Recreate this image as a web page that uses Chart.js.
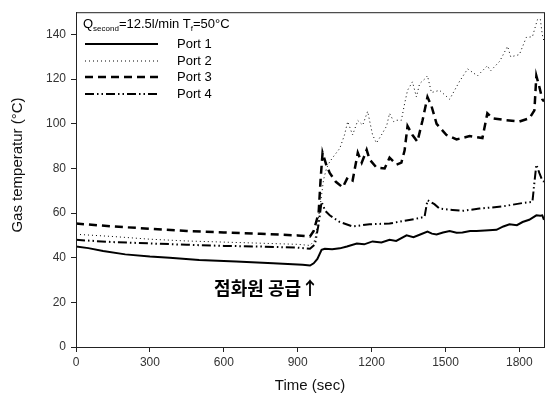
<!DOCTYPE html>
<html>
<head>
<meta charset="utf-8">
<script src="https://cdn.jsdelivr.net/npm/chart.js@4/dist/chart.umd.min.js"></script>
<style>
  html, body { margin: 0; padding: 0; background: #fff; }
  #wrap { width: 551px; height: 404px; }
</style>
</head>
<body>
<div id="wrap"><canvas id="chart" width="551" height="404"></canvas></div>
<script>
// values (time in sec, temperature in °C)
const port1Time = [0, 50, 110, 200, 300, 380, 500, 650, 800, 920, 950, 965, 980, 997, 1010, 1040, 1071, 1100, 1140, 1170, 1204, 1240, 1273, 1300, 1342, 1370, 1395, 1427, 1445, 1464, 1490, 1517, 1545, 1569, 1600, 1626, 1660, 1707, 1735, 1760, 1790, 1813, 1840, 1869, 1885, 1893, 1900];
const port1Temp = [45, 44.3, 43, 41.5, 40.5, 40, 39, 38.3, 37.5, 36.8, 36.5, 37.5, 39.5, 43.5, 44, 43.8, 44.2, 45, 46.4, 46, 47.3, 46.8, 48, 47.5, 50, 49.2, 50.3, 51.7, 50.8, 50.4, 51.3, 52, 51.2, 51.3, 52, 52, 52.2, 52.5, 54, 55, 54.6, 56, 57, 59, 58.8, 59, 57];

const port2Time = [0, 150, 300, 450, 600, 750, 900, 950, 970, 990, 1005, 1017, 1030, 1050, 1071, 1090, 1103, 1123, 1144, 1164, 1184, 1204, 1220, 1240, 1261, 1273, 1290, 1301, 1321, 1334, 1346, 1366, 1382, 1395, 1415, 1427, 1443, 1476, 1517, 1557, 1590, 1630, 1670, 1683, 1720, 1752, 1765, 1800, 1828, 1853, 1873, 1885, 1893, 1900];
const port2Temp = [50.5, 49.5, 48.3, 47.5, 47, 46.5, 46, 45.5, 48, 62, 75, 80, 83, 86, 89, 95, 101, 95, 101.5, 99.4, 105.6, 95, 91.4, 95, 99, 104.7, 101, 101.6, 101.6, 109, 115, 118.8, 112, 118, 120, 121.5, 114, 115, 111, 119, 124.6, 121.5, 126, 123.7, 128, 134.7, 130, 131, 138.7, 139, 146.6, 147, 140, 137];

const port3Time = [0, 150, 300, 450, 600, 750, 900, 950, 965, 985, 993, 1001, 1015, 1030, 1055, 1083, 1103, 1123, 1144, 1160, 1180, 1192, 1220, 1253, 1273, 1301, 1321, 1334, 1346, 1366, 1386, 1407, 1427, 1443, 1464, 1504, 1545, 1598, 1650, 1670, 1690, 1747, 1800, 1841, 1861, 1869, 1881, 1893, 1900];
const port3Temp = [55.3, 54, 53, 52, 51.3, 50.7, 50, 49.5, 52, 60, 75, 87, 82, 78, 74, 71.5, 76, 74.6, 87, 82.6, 88.3, 84, 80.4, 80, 84.8, 81.7, 82.6, 88, 99, 95, 92, 101.6, 112, 108, 100, 95, 93, 94.5, 93.6, 104.7, 102.5, 101.6, 101, 102.5, 106, 121.5, 116.6, 111, 110];

const port4Time = [0, 150, 300, 450, 600, 750, 900, 950, 970, 985, 997, 1012, 1030, 1071, 1123, 1192, 1273, 1330, 1382, 1415, 1427, 1455, 1476, 1529, 1569, 1638, 1732, 1813, 1853, 1861, 1869, 1881, 1893, 1900];
const port4Temp = [48, 47, 46.4, 45.8, 45.3, 45, 44.5, 44, 46, 55, 65, 61, 59, 56, 54, 55, 55.3, 56.5, 57.5, 58.3, 65.8, 64, 62, 61.4, 61, 62, 63, 64.5, 65, 73.7, 81.7, 78, 74.6, 74];

const xTicks = [0, 300, 600, 900, 1200, 1500, 1800];
const yTicks = [0, 20, 40, 60, 80, 100, 120, 140];

const FONT = '"Liberation Sans", Arial, sans-serif';

const series = [
  { label: 'Port 1', t: port1Time, v: port1Temp, width: 2, dash: [] },
  { label: 'Port 2', t: port2Time, v: port2Temp, width: 1, dash: [1, 3] },
  { label: 'Port 3', t: port3Time, v: port3Temp, width: 2.5, dash: [8, 5] },
  { label: 'Port 4', t: port4Time, v: port4Temp, width: 2, dash: [9, 3, 1.5, 3, 1.5, 3] },
];

// frame, legend box text, annotation and axis titles
const decor = {
  id: 'decor',
  afterDraw(chart) {
    const { ctx, chartArea: a } = chart;
    ctx.save();
    ctx.strokeStyle = '#222';
    ctx.lineWidth = 1;
    ctx.strokeRect(a.left + 0.5, a.top + 0.5, a.right - a.left, a.bottom - a.top);

    // legend title with subscripts
    ctx.fillStyle = '#000';
    ctx.textBaseline = 'alphabetic';
    let x = 83;
    const base = 28;
    const part = (s, size, dy) => {
      ctx.font = `${size}px ${FONT}`;
      ctx.fillText(s, x, base + dy);
      x += ctx.measureText(s).width;
    };
    part('Q', 13, 0);
    part('second', 8, 3);
    part('=12.5l/min T', 13, 0);
    part('f', 8, 3);
    part('=50°C', 13, 0);

    // legend rows
    const rowY = [44, 61, 77, 94];
    series.forEach((s, i) => {
      ctx.beginPath();
      ctx.setLineDash(s.dash);
      ctx.lineWidth = s.width;
      ctx.strokeStyle = '#000';
      ctx.moveTo(85, rowY[i]);
      ctx.lineTo(158, rowY[i]);
      ctx.stroke();
      ctx.setLineDash([]);
      ctx.font = `13px ${FONT}`;
      ctx.textBaseline = 'middle';
      ctx.fillText(s.label, 177, rowY[i]);
    });

    // ignition annotation
    ctx.font = 'bold 18px "Noto Sans CJK KR", sans-serif';
    ctx.textAlign = 'right';
    ctx.textBaseline = 'middle';
    ctx.fillText('점화원 공급↑', 319, 288);

    // axis titles
    ctx.font = `15px ${FONT}`;
    ctx.textAlign = 'center';
    ctx.fillStyle = '#111';
    ctx.fillText('Time (sec)', 310, 386);
    ctx.translate(18, 165);
    ctx.rotate(-Math.PI / 2);
    ctx.fillText('Gas temperatur (°C)', 0, 0);
    ctx.restore();
  }
};

new Chart(document.getElementById('chart'), {
  type: 'line',
  data: {
    datasets: series.map(s => ({
      label: s.label,
      data: s.t.map((t, i) => ({ x: t, y: s.v[i] })),
      borderColor: '#000',
      borderWidth: s.width,
      borderDash: s.dash,
      pointRadius: 0,
      tension: 0,
      fill: false,
    })),
  },
  options: {
    responsive: false,
    animation: false,
    layout: { padding: { top: 7, right: 7, left: 0, bottom: 0 } },
    plugins: { legend: { display: false }, tooltip: { enabled: false } },
    scales: {
      x: {
        type: 'linear', min: 0, max: 1900,
        afterFit: s => { s.height = 57; },
        afterBuildTicks: s => { s.ticks = xTicks.map(v => ({ value: v })); },
        ticks: { font: { family: FONT, size: 12 }, color: '#333', padding: 3, maxRotation: 0, callback: v => String(v) },
        grid: { drawOnChartArea: false, tickLength: 5, color: '#222' },
        border: { color: '#222' },
      },
      y: {
        min: 0, max: 150,
        afterFit: s => { s.width = 76; },
        afterBuildTicks: s => { s.ticks = yTicks.map(v => ({ value: v })); },
        ticks: { font: { family: FONT, size: 12 }, color: '#333', padding: 5, callback: v => String(v) },
        grid: { drawOnChartArea: false, tickLength: 5, color: '#222' },
        border: { color: '#222' },
      },
    },
  },
  plugins: [decor],
});
</script>
</body>
</html>
